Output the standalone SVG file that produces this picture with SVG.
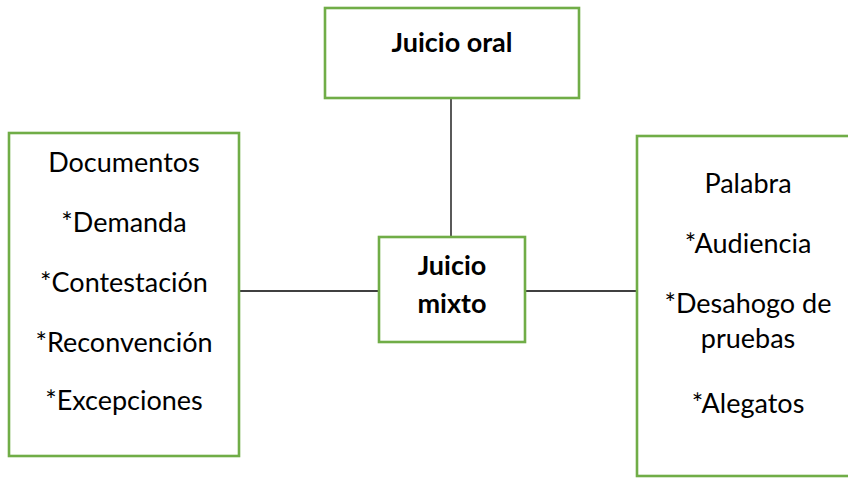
<svg xmlns="http://www.w3.org/2000/svg" width="848" height="478" viewBox="0 0 848 478">
<style>
.box{fill:#fff;stroke:#70AD47;stroke-width:2.6}
.t{font-family:Lato,"Liberation Sans",sans-serif;font-size:27px;fill:#000;text-anchor:middle}
.b{font-weight:bold}
.c{stroke:#000;stroke-width:1.3;fill:none}
</style>
<rect width="848" height="478" fill="#fff"/>
<g id="connectors">
<line class="c" x1="451" y1="98" x2="451" y2="237"/>
<line class="c" x1="239" y1="291" x2="379" y2="291"/>
<line class="c" x1="525" y1="291" x2="637" y2="291"/>
</g>
<g id="juicio-oral">
<rect class="box" x="325" y="8" width="254" height="90"/>
<text class="t b" x="452" y="52">Juicio oral</text>
</g>
<g id="juicio-mixto">
<rect class="box" x="379" y="237" width="146" height="105"/>
<text class="t b" x="452" y="275">Juicio</text>
<text class="t b" x="452" y="313">mixto</text>
</g>
<g id="documentos">
<rect class="box" x="9" y="133" width="230" height="323"/>
<text class="t" x="124" y="172">Documentos</text>
<text class="t" x="124" y="232">*Demanda</text>
<text class="t" x="124" y="292">*Contestación</text>
<text class="t" x="124" y="352">*Reconvención</text>
<text class="t" x="124" y="410">*Excepciones</text>
</g>
<g id="palabra">
<rect class="box" x="637" y="136" width="222" height="340"/>
<text class="t" x="748" y="193">Palabra</text>
<text class="t" x="748" y="253">*Audiencia</text>
<text class="t" x="748" y="313">*Desahogo de</text>
<text class="t" x="748" y="348">pruebas</text>
<text class="t" x="748" y="413">*Alegatos</text>
</g>
</svg>
